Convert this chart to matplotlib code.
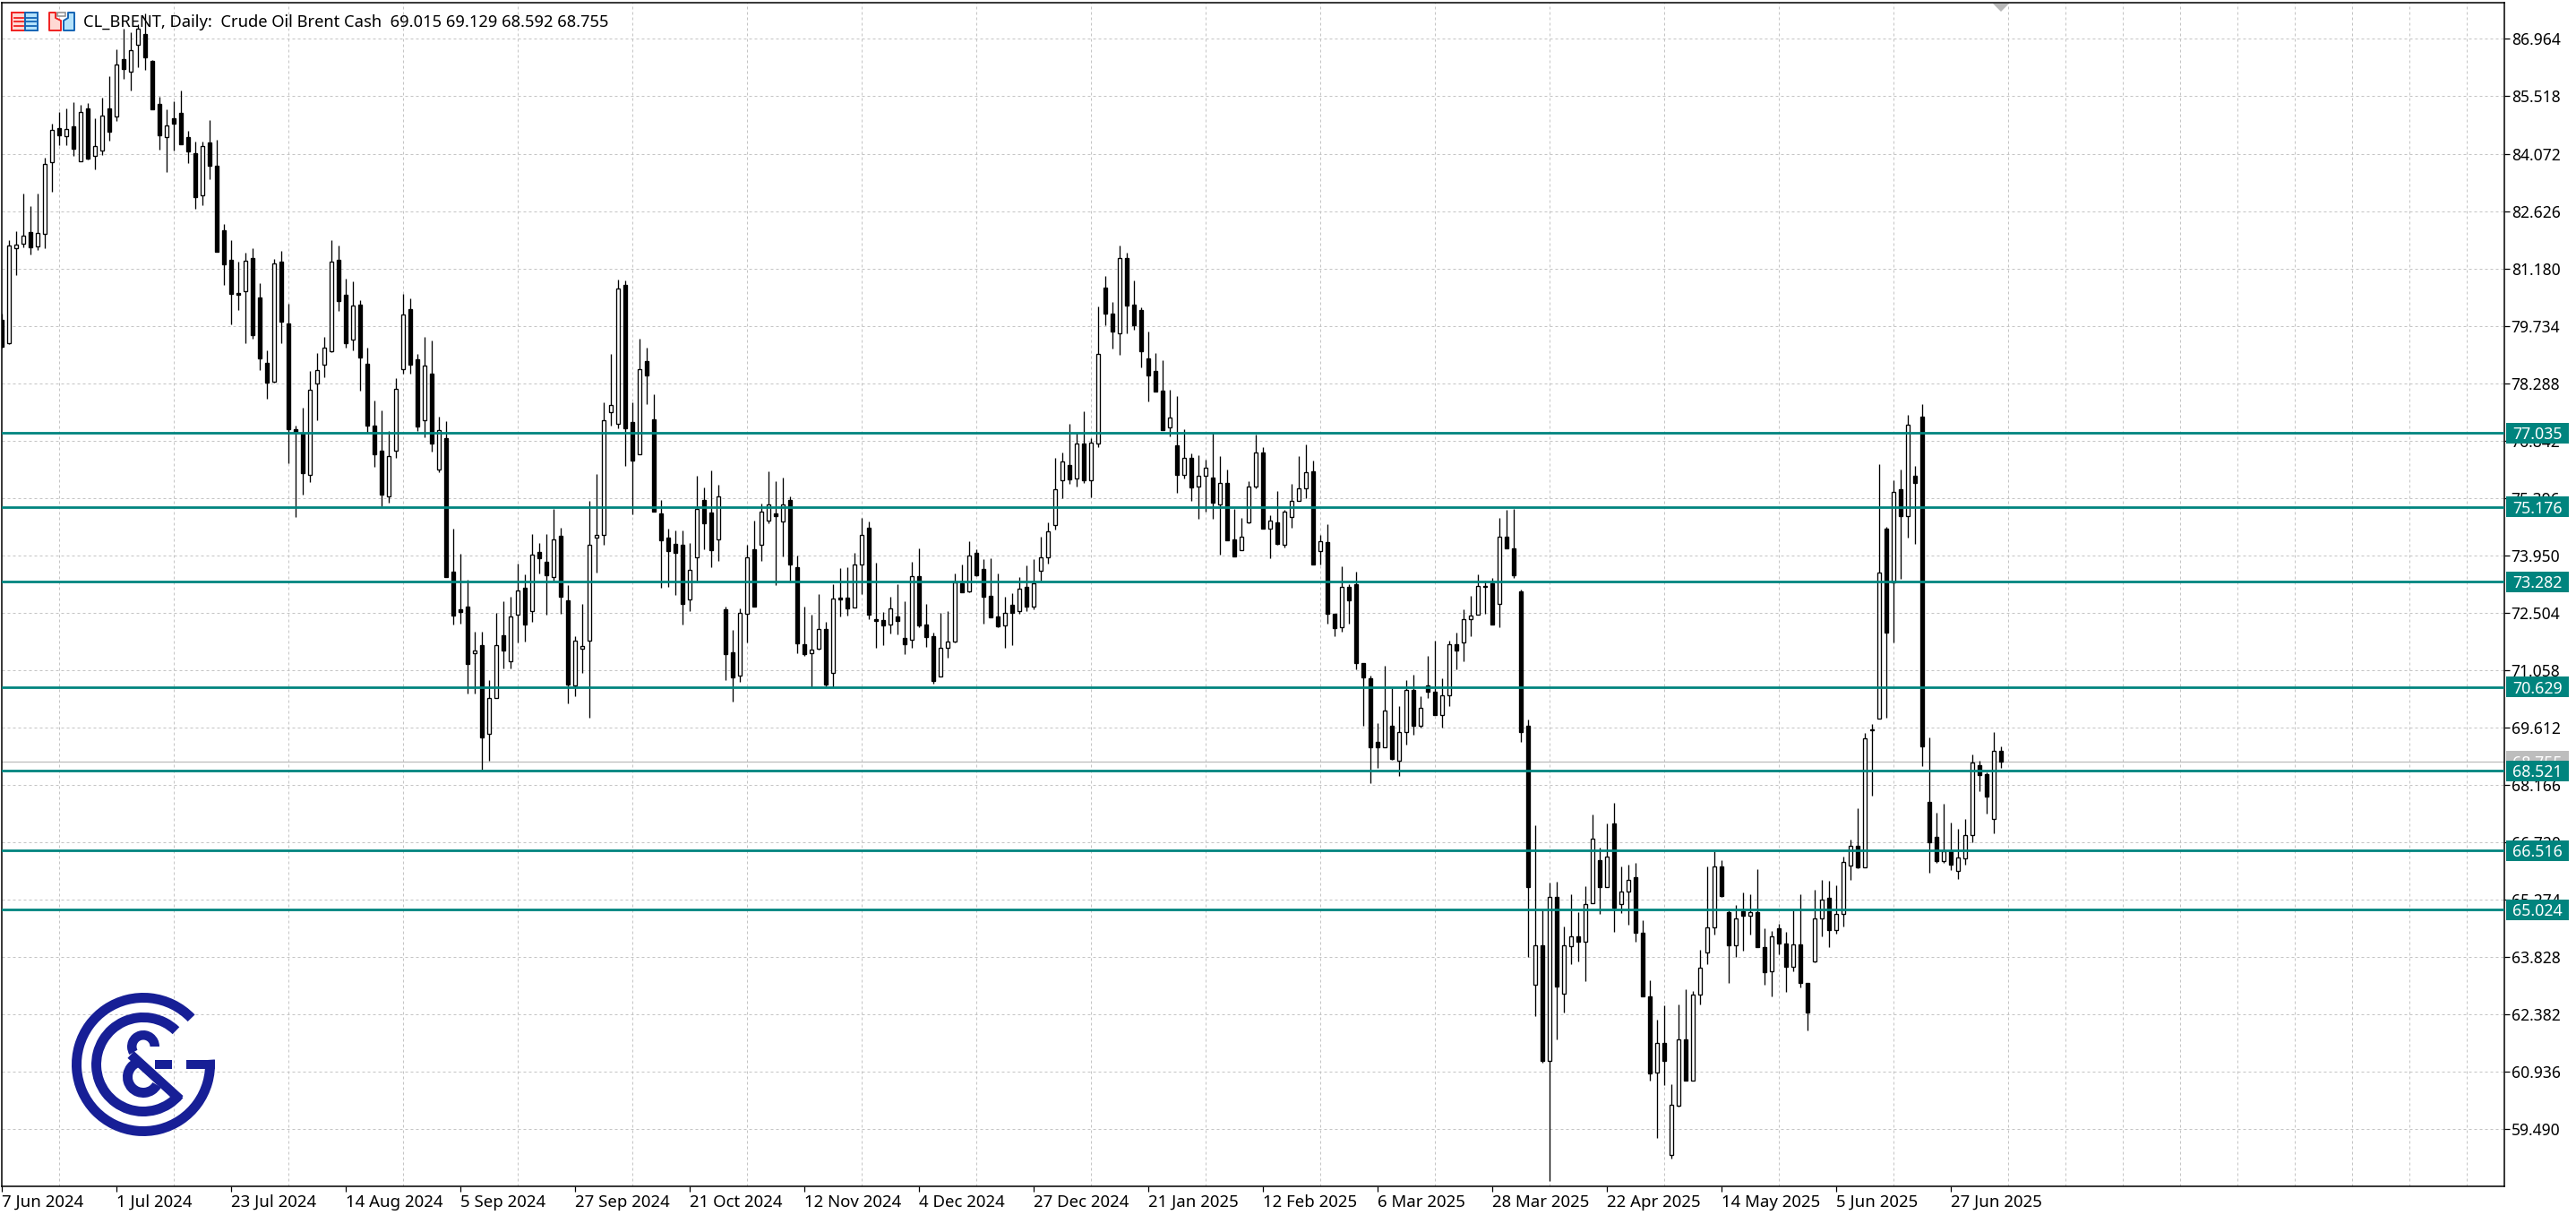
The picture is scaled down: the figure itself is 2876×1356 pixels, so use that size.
import numpy as np
import matplotlib
matplotlib.use("Agg")
import matplotlib.pyplot as plt
from matplotlib.patches import Rectangle, Wedge, Polygon

plt.rcParams['font.family'] = ['Noto Sans', 'DejaVu Sans']

# Daily candles
opens = [
    79.88,79.30,81.69,81.80,82.10,81.74,82.05,83.86,84.72,84.51,
    84.76,83.88,85.21,84.02,84.15,85.21,85.01,86.46,86.14,86.82,
    87.09,86.41,85.33,84.49,84.96,85.10,84.49,84.08,83.02,84.36,
    83.77,82.14,81.40,80.56,80.61,81.44,80.45,78.80,78.33,81.35,
    79.79,77.13,77.02,75.98,78.28,78.75,79.09,81.40,80.52,79.39,
    80.27,78.78,77.22,76.59,75.44,76.59,78.64,80.15,78.89,77.35,
    78.53,76.11,76.90,73.54,72.59,72.66,71.48,71.69,69.45,70.36,
    71.94,71.28,72.46,73.13,72.55,74.04,73.79,73.40,74.44,72.82,
    70.67,71.60,71.80,74.40,74.47,77.56,77.27,80.76,77.31,76.50,
    78.85,77.38,75.01,74.40,74.24,74.21,72.84,73.90,75.35,75.03,
    74.35,72.59,71.51,70.92,72.48,74.10,74.22,74.83,75.01,74.80,
    75.35,73.65,71.71,71.48,71.60,72.09,70.99,72.88,72.88,72.64,
    73.72,74.65,72.34,72.32,72.21,72.41,71.87,71.82,73.43,72.21,
    71.91,70.90,71.62,71.78,73.25,73.04,74.01,73.61,72.93,72.41,
    72.18,72.70,72.55,73.16,72.66,73.56,73.90,74.71,75.84,76.23,
    75.89,76.77,75.84,76.77,80.70,80.04,79.55,81.44,80.27,80.13,
    78.91,78.60,78.10,77.17,76.72,75.98,76.41,75.68,75.96,75.91,
    75.23,75.77,74.35,74.08,74.78,75.68,76.54,74.62,74.78,74.21,
    74.92,75.32,75.64,76.07,74.06,74.28,72.48,72.14,73.16,73.22,
    71.23,70.85,69.25,69.11,69.66,68.77,69.50,70.56,69.66,70.67,
    70.51,69.93,70.42,71.71,71.76,72.34,72.46,73.18,73.25,72.73,
    74.42,74.12,73.04,69.66,63.13,64.12,61.21,65.34,62.90,64.10,
    64.35,64.21,65.18,66.27,65.59,67.19,65.17,65.48,65.84,64.44,
    62.84,60.92,61.66,58.84,60.08,61.75,60.71,62.88,63.95,64.58,
    66.11,64.96,64.12,64.98,64.87,64.96,64.08,63.47,64.55,64.17,
    63.58,64.15,63.17,63.72,64.80,65.32,64.51,64.91,66.13,66.63,
    66.09,69.56,69.84,74.62,73.27,75.62,74.94,75.96,77.45,67.74,
    66.86,66.25,66.50,66.00,66.32,66.90,68.66,68.44,67.31,69.015,
]
highs = [
    80.04,81.89,82.12,83.07,82.75,83.07,83.97,84.83,85.12,85.21,
    85.37,85.30,85.35,84.96,85.48,86.03,86.70,87.22,87.13,87.33,
    87.61,86.43,85.51,85.19,85.39,85.66,84.65,84.38,84.38,84.92,
    84.42,82.30,81.89,81.35,81.58,81.69,80.81,79.12,81.42,81.62,
    80.29,77.22,77.67,78.60,79.05,79.45,81.89,81.76,80.92,80.85,
    80.38,79.18,77.85,77.60,77.08,78.42,80.54,80.43,79.03,79.45,
    79.36,77.45,77.33,74.62,73.99,73.34,72.03,72.03,70.81,72.50,
    72.79,72.90,73.74,73.47,74.49,74.26,74.49,75.12,74.65,73.20,
    71.91,72.73,75.32,75.99,77.81,79.03,80.90,80.88,77.81,79.41,
    79.18,78.01,75.35,74.62,74.58,74.58,74.26,75.96,75.66,76.09,
    75.73,72.66,72.07,72.61,74.21,74.83,75.25,76.07,75.82,75.91,
    75.44,73.95,72.66,72.45,72.98,72.27,73.22,73.63,73.65,74.01,
    74.89,74.80,73.76,72.52,72.91,73.22,72.79,73.79,74.12,72.73,
    72.00,72.50,72.55,73.50,73.72,74.31,74.10,73.85,73.88,73.50,
    72.91,73.00,73.40,73.70,73.85,74.42,74.78,76.41,76.54,77.27,
    77.04,77.58,76.90,80.22,80.99,80.34,81.76,81.58,80.88,80.20,
    79.59,79.05,78.87,78.12,77.96,77.13,76.52,76.47,76.36,77.04,
    76.45,76.11,75.12,74.89,75.82,76.99,76.68,74.96,75.57,75.10,
    75.75,76.45,76.75,76.34,74.47,74.74,72.48,73.67,73.22,73.54,
    71.23,70.92,69.72,71.17,70.60,70.15,70.81,70.94,70.40,71.42,
    71.80,70.85,71.80,72.00,72.59,72.93,73.47,73.31,73.38,74.89,
    75.10,75.12,73.09,69.81,67.15,65.00,65.70,65.73,64.60,65.41,
    64.96,65.61,67.42,66.58,67.19,67.71,66.11,66.15,66.20,64.76,
    63.24,62.25,62.61,60.62,62.63,63.02,62.97,64.01,66.11,66.50,
    66.27,65.00,65.14,65.46,65.41,66.04,64.55,64.49,64.66,64.46,
    65.00,65.41,63.17,65.53,65.77,65.75,65.64,66.36,66.79,67.58,
    69.47,69.70,76.25,74.67,75.84,76.11,77.49,76.20,77.76,69.36,
    67.46,67.69,67.22,67.06,67.31,68.93,68.77,68.48,69.50,69.129,
]
lows = [
    79.18,79.27,81.01,81.71,81.53,81.65,81.69,83.11,84.29,84.29,
    84.02,83.88,83.93,83.68,84.04,84.40,84.90,85.96,85.66,86.25,
    86.18,85.19,84.17,83.61,84.15,84.31,83.84,82.68,82.77,83.43,
    81.60,80.77,79.77,80.13,79.30,79.41,78.62,77.90,78.30,79.30,
    76.27,74.92,75.48,75.80,77.35,78.44,79.07,80.11,79.18,79.12,
    78.10,77.04,76.18,75.19,75.28,76.41,78.53,78.53,77.08,76.93,
    76.56,76.04,73.40,72.21,72.23,70.47,70.47,68.55,68.77,70.36,
    71.10,71.10,71.76,71.78,72.27,73.50,72.46,73.31,72.48,70.22,
    70.40,70.99,69.86,73.52,74.21,77.22,77.15,76.20,74.98,76.50,
    77.76,75.05,73.13,73.16,72.95,72.21,72.55,73.27,74.10,73.65,
    73.81,70.81,70.26,70.76,71.76,72.66,73.81,74.76,73.20,73.92,
    73.27,71.48,71.42,70.63,71.57,70.65,70.63,72.41,72.43,72.64,
    72.97,72.34,71.62,71.69,71.98,71.96,71.46,71.62,72.14,71.64,
    70.72,70.90,71.37,71.76,73.02,73.02,73.43,72.23,72.39,72.14,
    71.62,71.69,72.48,72.55,72.59,73.31,73.74,74.60,75.39,75.75,
    75.68,75.77,75.41,76.68,79.75,79.16,79.00,79.55,79.64,78.69,
    77.83,78.08,77.11,76.95,75.53,75.89,75.32,74.87,75.05,74.87,
    73.97,74.33,73.92,74.08,74.76,75.64,74.62,73.88,74.22,74.15,
    74.65,75.32,75.39,73.72,73.72,72.23,71.91,72.03,72.23,71.08,
    69.66,68.21,68.59,69.11,68.80,68.39,69.18,69.43,69.61,70.36,
    69.93,69.61,70.15,71.08,71.28,71.91,72.46,72.48,72.21,72.14,
    74.12,73.38,69.25,63.83,62.34,61.17,58.18,61.75,62.43,63.65,
    63.72,63.22,65.18,64.91,65.59,64.46,64.94,64.64,64.21,62.84,
    60.71,59.27,60.60,58.75,60.06,60.71,60.71,62.63,63.65,64.39,
    65.34,63.17,63.83,63.99,64.39,64.08,63.13,62.84,63.90,62.95,
    63.47,63.06,61.98,63.70,64.35,64.08,64.42,64.60,65.77,66.07,
    66.09,67.89,69.84,69.86,71.76,73.36,74.40,74.24,68.64,65.95,
    66.20,66.20,66.02,65.80,66.16,66.72,68.01,67.44,66.95,68.592,
]
closes = [
    79.21,81.76,81.78,82.01,81.71,82.07,83.81,84.67,84.54,84.69,
    84.20,85.12,83.95,84.26,85.03,84.63,86.32,86.21,86.68,87.22,
    86.50,85.19,84.54,84.78,84.83,84.31,84.13,82.98,84.26,83.77,
    81.60,81.28,80.54,80.52,81.37,79.50,78.91,78.30,81.31,79.84,
    77.13,77.04,76.02,78.12,78.62,79.18,81.35,80.36,79.30,80.25,
    78.94,77.22,76.50,75.48,76.45,78.15,80.02,78.75,77.20,78.73,
    76.77,77.11,73.40,72.43,72.52,71.21,71.55,69.36,70.36,71.69,
    71.55,72.41,73.07,72.21,73.97,73.88,73.45,74.35,72.90,70.69,
    71.80,71.67,74.22,74.47,77.35,77.74,80.67,77.15,76.34,78.64,
    78.48,75.05,74.33,74.06,74.01,72.73,73.58,75.12,74.76,74.08,
    75.43,71.46,70.87,72.50,73.90,72.66,75.05,75.23,74.94,75.23,
    73.72,71.73,71.46,71.57,72.09,70.69,72.86,72.84,72.61,73.72,
    74.47,72.46,72.30,72.18,72.61,72.30,71.71,73.43,72.18,71.89,
    70.79,71.62,71.78,73.27,73.02,73.95,73.45,72.91,72.39,72.16,
    72.50,72.50,73.11,72.66,73.25,73.90,74.55,75.62,76.32,75.87,
    76.77,75.84,76.79,79.03,80.04,79.59,81.44,80.25,79.75,79.09,
    78.48,78.08,77.11,77.42,75.98,76.41,75.66,75.96,76.16,75.28,
    75.77,74.33,73.92,74.42,75.68,76.54,74.62,74.83,74.24,75.05,
    75.32,75.64,76.04,73.72,74.31,72.48,72.12,73.16,72.82,71.23,
    70.87,69.11,69.11,70.04,68.82,69.50,70.56,69.66,70.11,70.51,
    69.93,70.42,71.71,71.55,72.34,72.43,73.18,73.16,72.21,74.42,
    74.12,73.45,69.50,65.59,64.12,61.21,65.34,63.08,64.12,64.35,
    64.21,65.17,66.81,65.59,66.36,65.07,65.48,65.77,64.44,62.84,
    60.90,61.66,61.21,60.10,61.75,60.71,62.88,63.56,64.58,66.11,
    65.37,64.12,64.80,64.87,64.96,64.08,63.45,64.35,64.17,63.58,
    64.15,63.17,62.43,64.80,65.27,64.51,64.91,66.22,66.63,66.09,
    69.34,69.54,73.52,72.00,75.55,74.94,77.24,75.77,69.14,66.72,
    66.25,66.50,66.16,66.34,66.90,68.73,68.41,67.87,69.02,68.755,
]

price_ticks = [86.964, 85.518, 84.072, 82.626, 81.180, 79.734, 78.288, 76.842, 75.396, 73.950,
               72.504, 71.058, 69.612, 68.166, 66.720, 65.274, 63.828, 62.382, 60.936, 59.490]
date_labels = ["7 Jun 2024", "1 Jul 2024", "23 Jul 2024", "14 Aug 2024", "5 Sep 2024", "27 Sep 2024",
               "21 Oct 2024", "12 Nov 2024", "4 Dec 2024", "27 Dec 2024", "21 Jan 2025", "12 Feb 2025",
               "6 Mar 2025", "28 Mar 2025", "22 Apr 2025", "14 May 2025", "5 Jun 2025", "27 Jun 2025"]
levels = [77.035, 75.176, 73.282, 70.629, 68.521, 66.516, 65.024]
last_price = 68.755
title = "CL_BRENT, Daily:  Crude Oil Brent Cash  69.015 69.129 68.592 68.755"

W, H = 2876, 1356
TEAL = "#00847e"
NAVY = "#171f96"
GRID = "#c4c4c4"
RED = "#f02020"
BLUE = "#1464b4"
PINK = "#ffd9d4"
SKY = "#b5e3fb"

fig = plt.figure(figsize=(W / 100, H / 100), dpi=100, facecolor="white")
# chart frame in pixels: x 2..2796, y 3..1324
ax = fig.add_axes([2 / W, 1 - 1324 / H, 2794 / W, 1321 / H])
ax.set_xlim(0, 2794 / 8)
ax.set_ylim(58.05, 87.877)

o, h, l, c = map(np.array, (opens, highs, lows, closes))
x = np.arange(len(o))
up = c >= o

# Grid
ax.set_yticks(price_ticks)
ax.set_yticklabels([f"{p:.3f}" for p in price_ticks])
ax.set_xticks(np.arange(len(date_labels)) * 16)
ax.set_xticklabels(date_labels, ha="left")
ax.set_xticks(np.arange(0, 345, 8), minor=True)
ax.grid(axis="y", which="major", color=GRID, lw=0.72, ls=(0, (3, 3)))
ax.grid(axis="x", which="minor", color=GRID, lw=0.72, ls=(0, (3, 3)))
ax.grid(axis="x", which="major", visible=False)
ax.set_axisbelow(True)
ax.yaxis.tick_right()
ax.tick_params(axis="y", length=4, width=0.9, pad=1.5, labelsize=12.6)
ax.tick_params(axis="x", which="major", length=4, width=0.9, pad=2.5, labelsize=13.4)
ax.tick_params(axis="x", which="minor", length=0)
for s in ax.spines.values():
    s.set_linewidth(1.1)

# Candles
ax.vlines(x, l, h, color="black", lw=0.95, zorder=3)
ax.bar(x[up], (c - o)[up], bottom=o[up], width=0.5, facecolor="white", edgecolor="black", lw=0.95, zorder=3.5)
ax.bar(x[~up], (c - o)[~up], bottom=o[~up], width=0.5, facecolor="black", edgecolor="black", lw=0.95, zorder=3.5)

# Last price line and tag, levels on top of it
tag_t = ax.get_yaxis_transform()
tag_x = 2 / 2794
tag_w = 70 / 2794
tag_h = 23 * (87.877 - 58.05) / 1321
ax.axhline(last_price, color="#bdbdbd", lw=0.9, zorder=2)
ax.add_patch(Rectangle((1 + tag_x, last_price - tag_h / 2), tag_w, tag_h, transform=tag_t,
                       facecolor="#bdbdbd", edgecolor="none", clip_on=False, zorder=5))
ax.text(1 + tag_x + tag_w / 2, last_price, f"{last_price:.3f}", transform=tag_t, color="white",
        fontsize=12.8, ha="center", va="center_baseline", clip_on=False, zorder=5.1)
for lev in levels:
    ax.axhline(lev, color=TEAL, lw=2.0, zorder=4)
    ax.add_patch(Rectangle((1 + tag_x, lev - tag_h / 2), tag_w, tag_h, transform=tag_t,
                           facecolor=TEAL, edgecolor="none", clip_on=False, zorder=6))
    ax.text(1 + tag_x + tag_w / 2, lev, f"{lev:.3f}", transform=tag_t, color="white",
            fontsize=12.8, ha="center", va="center_baseline", clip_on=False, zorder=6.1)

# Overlay in pixel coordinates for the header and the logo
ov = fig.add_axes([0, 0, 1, 1], facecolor="none")
ov.set_xlim(0, W)
ov.set_ylim(H, 0)
ov.axis("off")

ov.text(93, 25, title, fontsize=13.2, color="black", ha="left", va="center")

# Left icon
ov.add_patch(Rectangle((13, 14), 14.5, 20, facecolor=PINK, edgecolor=RED, lw=1.4))
ov.add_patch(Rectangle((27.5, 14), 14, 20, facecolor=SKY, edgecolor=BLUE, lw=1.4))
for yy in (19.5, 24, 28.5):
    ov.plot([16, 26], [yy, yy], color=RED, lw=1.3)
    ov.plot([29, 39.5], [yy, yy], color=BLUE, lw=1.3)
# Right icon
ov.add_patch(Polygon([(55, 14), (62, 14), (62, 20), (68, 23), (68, 34), (55, 34)],
                     facecolor=PINK, edgecolor=RED, lw=1.4, joinstyle="round"))
ov.add_patch(Polygon([(83, 14), (76, 14), (76, 20), (71, 23), (71, 34), (83, 34)],
                     facecolor=SKY, edgecolor=BLUE, lw=1.4, joinstyle="round"))
ov.add_patch(Rectangle((64, 14), 9, 3.5, facecolor="white", edgecolor="#8c8c8c", lw=1.1))

# Logo
ov.add_patch(Wedge((160, 1188), 80, -4, 316, width=11, facecolor=NAVY, edgecolor="none"))
ov.add_patch(Rectangle((208, 1183), 32, 10, facecolor=NAVY, edgecolor="none"))
ov.add_patch(Wedge((160, 1188), 58, 40, 314, width=11, facecolor=NAVY, edgecolor="none"))
ov.add_patch(Wedge((160, 1202), 23, 30, 245, width=11, facecolor=NAVY, edgecolor="none"))
ov.add_patch(Wedge((160, 1168), 18, 150, 360, width=10.5, facecolor=NAVY, edgecolor="none"))
ov.plot([146, 201], [1177, 1227], color=NAVY, lw=7.6, solid_capstyle="butt")
ov.add_patch(Rectangle((173, 1183), 19, 10, facecolor=NAVY, edgecolor="none"))

# Chart shift marker on the top edge
ov.add_patch(Polygon([(2225, 4), (2243, 4), (2234, 13)], facecolor="#b8b8b8", edgecolor="none"))

fig.savefig("out.png", dpi=100)
